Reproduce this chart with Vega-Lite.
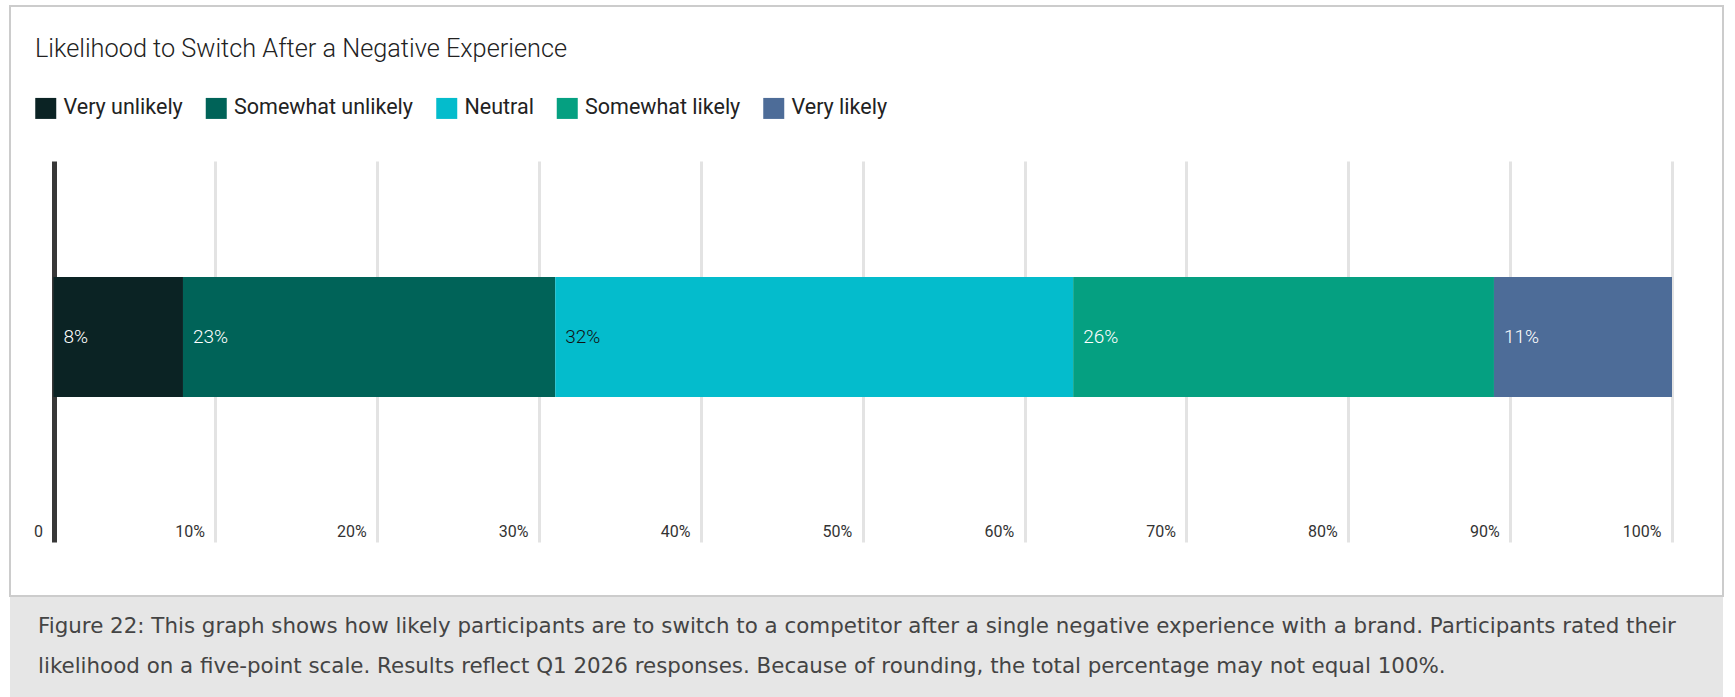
{
  "$schema": "https://vega.github.io/schema/vega-lite/v6.json",
  "background": "white",
  "padding": {"left": 9, "top": 5, "right": 0, "bottom": 0},
  "spacing": 0,
  "config": {"font": "Roboto"},
  "datasets": {
    "responses": [
      {"question": "Switch after negative experience", "category": "Very unlikely", "order": 1, "share": 0.08},
      {"question": "Switch after negative experience", "category": "Somewhat unlikely", "order": 2, "share": 0.23},
      {"question": "Switch after negative experience", "category": "Neutral", "order": 3, "share": 0.32},
      {"question": "Switch after negative experience", "category": "Somewhat likely", "order": 4, "share": 0.26},
      {"question": "Switch after negative experience", "category": "Very likely", "order": 5, "share": 0.11}
    ],
    "caption": [
      {"line": 1, "text": "Figure 22: This graph shows how likely participants are to switch to a competitor after a single negative experience with a brand. Participants rated their"},
      {"line": 2, "text": "likelihood on a five-point scale. Results reflect Q1 2026 responses. Because of rounding, the total percentage may not equal 100%."}
    ]
  },
  "vconcat": [
    {
      "width": 1713,
      "height": 590,
      "view": {"stroke": "#cccccc", "strokeWidth": 2, "fill": "white"},
      "data": {"name": "responses"},
      "transform": [
        {"stack": "share", "groupby": ["question"], "sort": [{"field": "order", "order": "ascending"}], "as": ["x0", "x1"]}
      ],
      "layer": [
        {
          "mark": {"type": "bar"},
          "encoding": {
            "x": {
              "field": "x0", "type": "quantitative",
              "scale": {"domain": [0, 1], "range": [43.5, 1662], "nice": false, "zero": false},
              "axis": {
                "orient": "bottom", "offset": -54, "domain": false, "grid": false, "title": null,
                "values": [0, 0.1, 0.2, 0.3, 0.4, 0.5, 0.6, 0.7, 0.8, 0.9, 1],
                "ticks": true, "tickSize": -381,
                "tickColor": {"condition": {"test": "datum.value === 0", "value": "#383838"}, "value": "#e3e3e3"},
                "tickWidth": {"condition": {"test": "datum.value === 0", "value": 5}, "value": 3},
                "labelExpr": "datum.value === 0 ? '0' : format(datum.value, '.0%')",
                "labelAlign": "right", "labelBaseline": "middle", "labelOffset": -11, "labelPadding": 370,
                "labelFont": "Roboto", "labelFontSize": 16, "labelColor": "#333333",
                "labelFlush": false, "labelOverlap": false, "labelBound": false
              }
            },
            "x2": {"field": "x1"},
            "y": {
              "field": "question", "type": "nominal", "axis": null,
              "scale": {"type": "band", "paddingInner": 0.4894, "paddingOuter": 1, "align": 0.5766}
            },
            "color": {
              "field": "category", "type": "nominal",
              "scale": {
                "domain": ["Very unlikely", "Somewhat unlikely", "Neutral", "Somewhat likely", "Very likely"],
                "range": ["#0b2324", "#006358", "#04bccc", "#05a081", "#4d6c98"]
              },
              "legend": {
                "orient": "none", "legendX": 25, "legendY": 31, "direction": "horizontal", "columns": 5,
                "title": "Likelihood to Switch After a Negative Experience",
                "titleFont": "Roboto", "titleFontSize": 25.3, "titleFontWeight": 300, "titleColor": "#222222",
                "titleAnchor": "start", "titleOrient": "top", "titlePadding": 35, "titleLimit": 1200, "titleBaseline": "top",
                "symbolType": "square", "symbolSize": 441, "symbolStrokeWidth": 0, "symbolOpacity": 1,
                "labelFont": "Roboto", "labelFontSize": 21.5, "labelColor": "#222222", "labelOffset": 7, "labelLimit": 400,
                "columnPadding": 22.5
              }
            },
            "order": {"field": "order"}
          }
        },
        {
          "mark": {"type": "text", "align": "left", "baseline": "middle", "dx": 10, "font": "Roboto", "fontSize": 19, "fontWeight": 300},
          "encoding": {
            "x": {"field": "x0", "type": "quantitative"},
            "y": {"field": "question", "type": "nominal"},
            "text": {"field": "share", "type": "quantitative", "format": ".0%"},
            "color": {"condition": {"test": "datum.category === 'Neutral'", "value": "#111111"}, "value": "#ffffff"}
          }
        }
      ]
    },
    {
      "width": 1713,
      "height": 100,
      "view": {"fill": "#e6e6e6", "stroke": null},
      "data": {"name": "caption"},
      "mark": {"type": "text", "align": "left", "baseline": "middle", "dx": 28, "font": "DejaVu Sans", "fontSize": 21.4, "color": "#444444"},
      "encoding": {
        "x": {"datum": 0, "type": "quantitative", "scale": {"domain": [0, 1]}, "axis": null},
        "y": {"field": "line", "type": "ordinal", "axis": null, "scale": {"type": "point", "padding": 0.72}},
        "text": {"field": "text"}
      }
    }
  ]
}
